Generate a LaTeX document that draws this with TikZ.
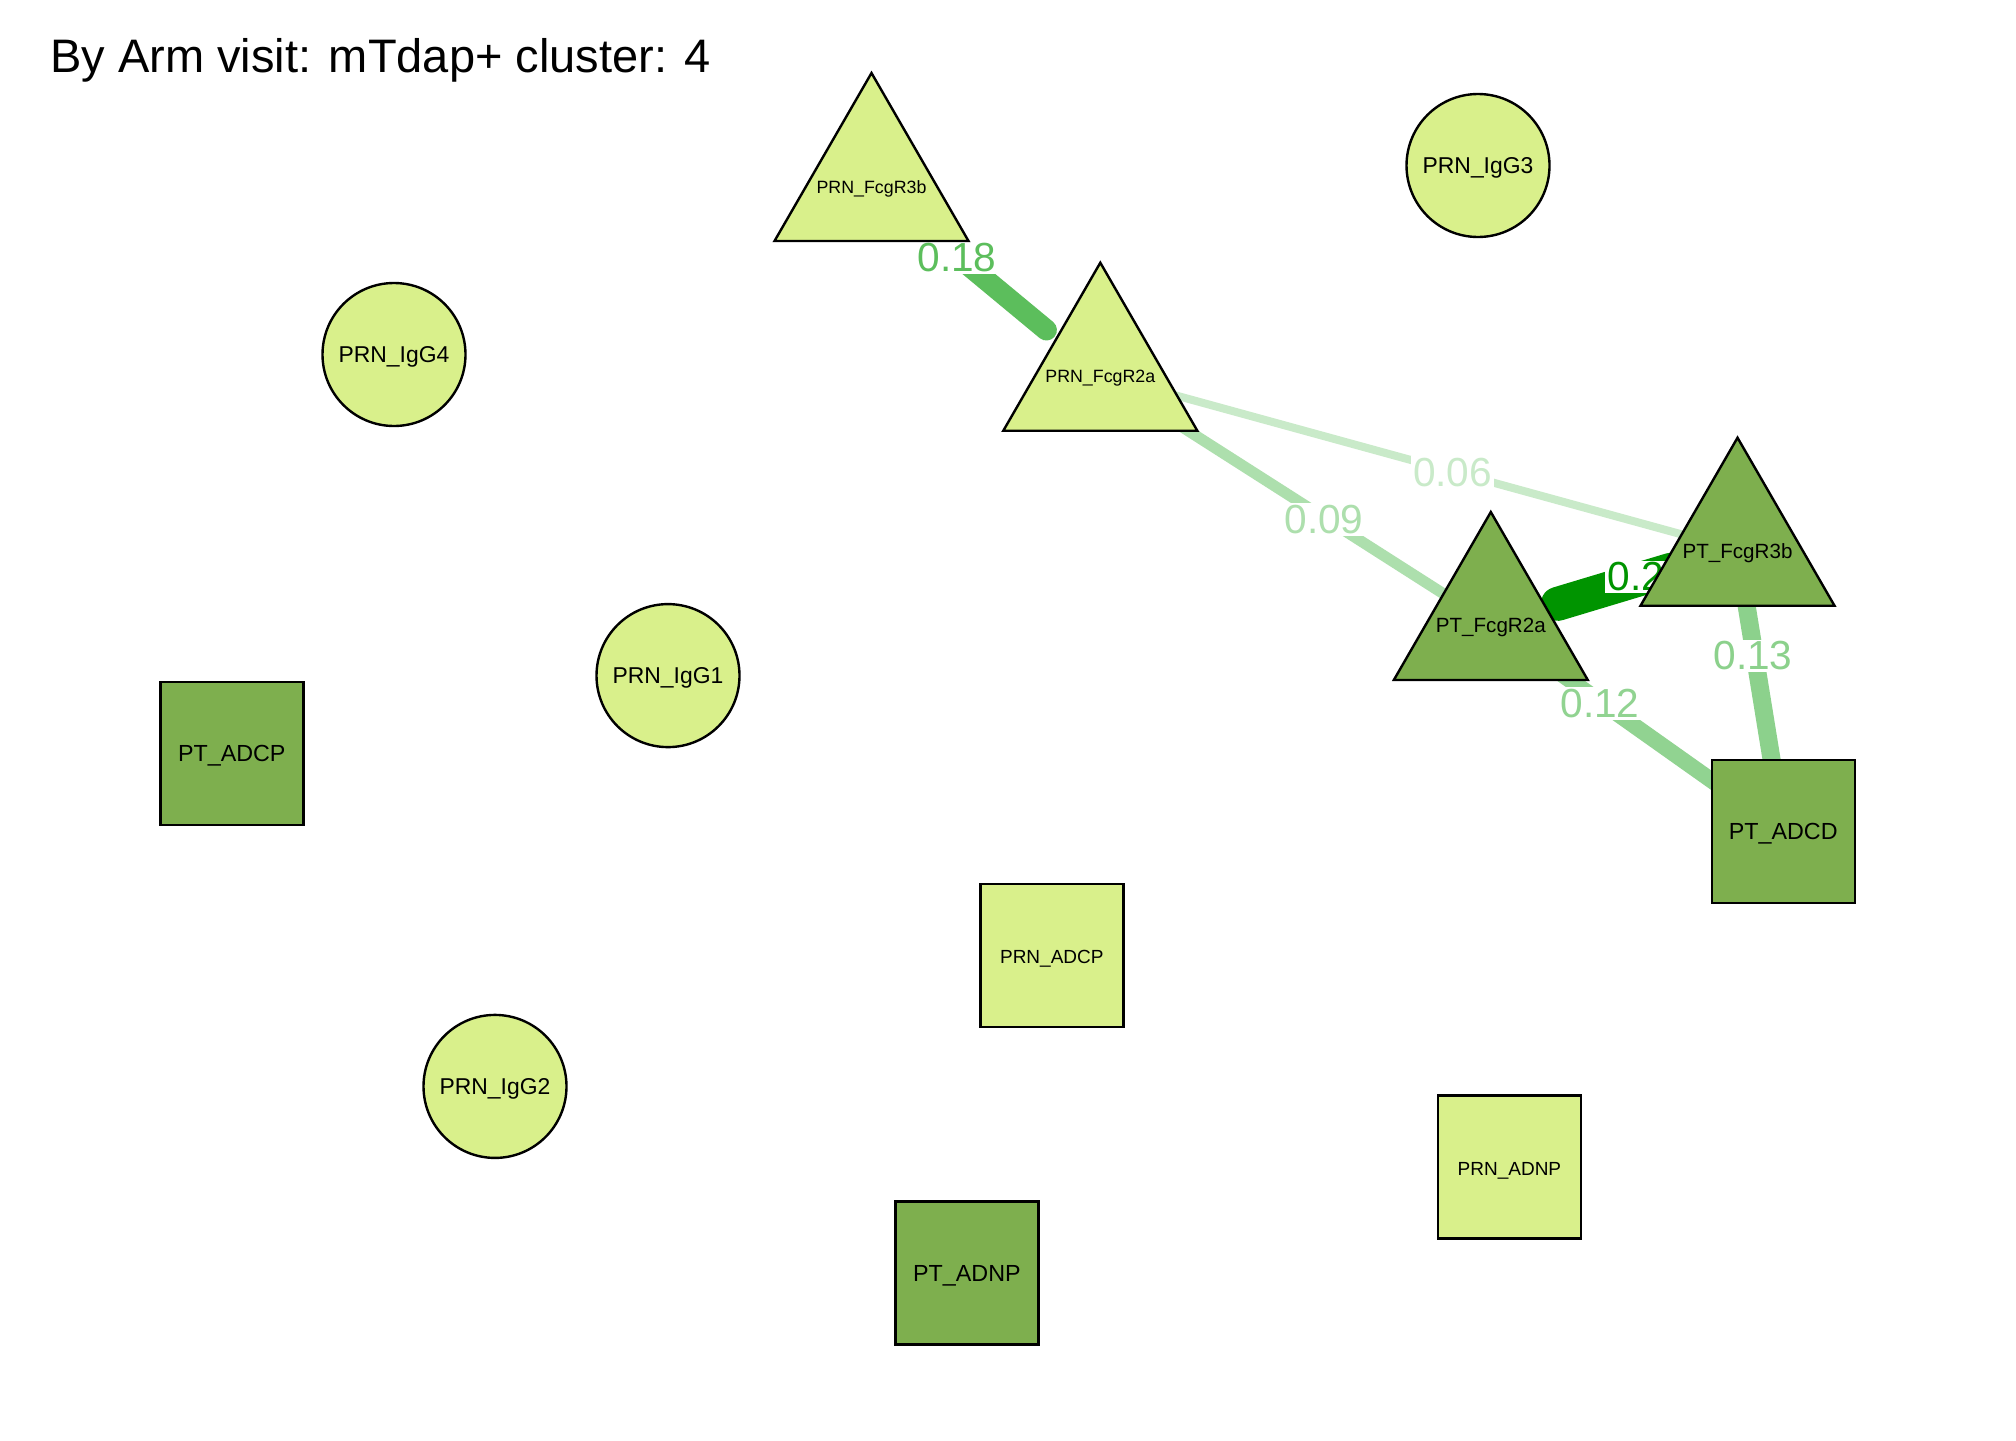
\documentclass[tikz,border=0pt]{standalone}
\usepackage{fontspec}
\setmainfont{Liberation Sans}
\usetikzlibrary{shapes.geometric}
\pgfdeclarelayer{bglayer}
\pgfdeclarelayer{edgelayer}
\pgfsetlayers{bglayer,edgelayer,main}
\definecolor{lightnode}{HTML}{D9F08B}
\definecolor{darknode}{HTML}{7EAF4E}
\definecolor{eA}{HTML}{009400}
\definecolor{eB}{HTML}{5CBE5C}
\definecolor{eC}{HTML}{8CD18C}
\definecolor{eD}{HTML}{91D391}
\definecolor{eE}{HTML}{ADDFAD}
\definecolor{eF}{HTML}{C9EAC9}
\tikzset{
  nbase/.style={draw=black, line width=1.2pt, inner sep=0pt, outer sep=0pt},
  circnode/.style={nbase, circle, minimum size=71.5pt, fill=lightnode},
  ptsq/.style={nbase, rectangle, minimum size=71.5pt, fill=darknode},
  prnsq/.style={nbase, rectangle, minimum size=71.5pt, fill=lightnode},
  trinode/.style={nbase, regular polygon, regular polygon sides=3, minimum size=112pt},
  circlab/.style={font=\fontsize{11.45}{13}\selectfont, inner sep=0pt, yshift=-1.3pt},
  ptsqlab/.style={font=\fontsize{11.65}{13}\selectfont, inner sep=0pt, yshift=-1.3pt},
  prnsqlab/.style={font=\fontsize{9.5}{11}\selectfont, inner sep=0pt, yshift=-1.8pt},
  ptlab/.style={font=\fontsize{10.3}{12}\selectfont, inner sep=0pt, yshift=-1.8pt},
  prnlab/.style={font=\fontsize{8.9}{10}\selectfont, inner sep=0pt, yshift=-1.8pt},
  elab/.style={fill=white, inner sep=1pt, font=\fontsize{20.3}{22}\selectfont},
  edgeline/.style={line cap=round}
}
\begin{document}
\begin{tikzpicture}[x=0.5pt, y=-0.5pt]
\begin{pgfonlayer}{bglayer}
\fill[white] (0,0) rectangle (2016,1440);
\end{pgfonlayer}
\useasboundingbox (0,0) rectangle (2016,1440);

% title
\node[anchor=base west, inner sep=0pt, font=\fontsize{23.5}{26}\selectfont] (title) at (50,72) {By Arm visit: mTdap+ cluster: 4};

% triangles
\node[trinode, fill=lightnode, label={[prnlab]center:PRN\_FcgR3b}] (prnf3b) at (871.5,185) {};
\node[trinode, fill=lightnode, label={[prnlab]center:PRN\_FcgR2a}] (prnf2a) at (1100.3,374.7) {};
\node[trinode, fill=darknode, label={[ptlab]center:PT\_FcgR2a}] (ptf2a) at (1490.8,624) {};
\node[trinode, fill=darknode, label={[ptlab]center:PT\_FcgR3b}] (ptf3b) at (1737.5,549.7) {};

% circles
\node[circnode, label={[circlab]center:PRN\_IgG3}] (igg3) at (1478,165.5) {};
\node[circnode, label={[circlab]center:PRN\_IgG4}] (igg4) at (394,354.5) {};
\node[circnode, label={[circlab]center:PRN\_IgG1}] (igg1) at (668,675.6) {};
\node[circnode, label={[circlab]center:PRN\_IgG2}] (igg2) at (495,1086.4) {};

% squares
\node[ptsq, label={[ptsqlab]center:PT\_ADCP}] (ptadcp) at (231.8,753.2) {};
\node[prnsq, label={[prnsqlab]center:PRN\_ADCP}] (prnadcp) at (1051.8,955.2) {};
\node[ptsq, label={[ptsqlab]center:PT\_ADCD}] (ptadcd) at (1783.2,831.2) {};
\node[prnsq, label={[prnsqlab]center:PRN\_ADNP}] (prnadnp) at (1509.4,1166.8) {};
\node[ptsq, label={[ptsqlab]center:PT\_ADNP}] (ptadnp) at (966.9,1272.9) {};

\begin{pgfonlayer}{edgelayer}
\draw[edgeline, eF, line width=4pt, shorten <=25pt, shorten >=25pt] (prnf2a.center) -- (ptf3b.center);
\draw[edgeline, eE, line width=5.5pt, shorten <=25pt, shorten >=25pt] (prnf2a.center) -- (ptf2a.center);
\draw[edgeline, eD, line width=8pt, shorten <=25pt, shorten >=25pt] (ptf2a.center) -- (ptadcd.center);
\draw[edgeline, eC, line width=9pt, shorten <=25pt, shorten >=25pt] (ptf3b.center) -- (ptadcd.center);
\draw[edgeline, eB, line width=10.5pt, shorten <=25pt, shorten >=35pt] (prnf3b.center) -- (prnf2a.center);
\draw[edgeline, eA, line width=17pt, shorten <=35pt, shorten >=35pt] (ptf2a.center) -- (ptf3b.center);

\node[elab, text=eB] (l18) at (957,258) {0.18};
\node[elab, text=eF] (l06) at (1452.5,472.5) {0.06};
\node[elab, text=eE] (l09) at (1324,519.4) {0.09};
\node[elab, text=eA, anchor=west] (l2) at (1605,577) {0.2};
\node[elab, text=eC] (l13) at (1753,656) {0.13};
\node[elab, text=eD] (l12) at (1600,703.5) {0.12};
\end{pgfonlayer}
\end{tikzpicture}
\end{document}
